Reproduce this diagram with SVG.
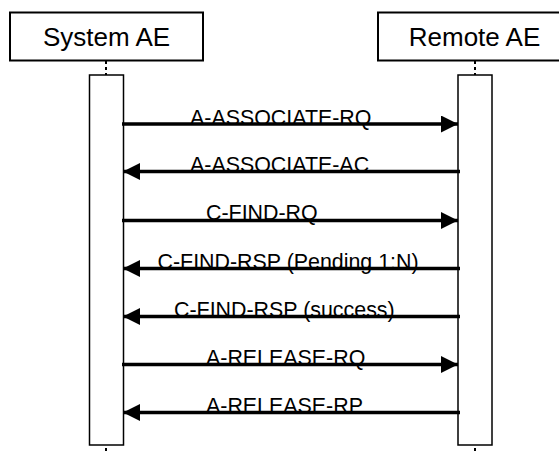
<svg xmlns="http://www.w3.org/2000/svg" width="559" height="453" viewBox="0 0 559 453">
<style>
.box{fill:#fff;stroke:#000;stroke-width:2}
.act{fill:#fff;stroke:#000;stroke-width:1.5}
.life{stroke:#000;stroke-width:2;stroke-dasharray:3 3;fill:none}
.hdr{font-family:"Liberation Sans",Arial,sans-serif;font-size:26px;fill:#000;text-anchor:middle}
.lbl{font-family:"Liberation Sans",Arial,sans-serif;font-size:21.4px;fill:#000}
.msg{stroke:#000;stroke-width:3.5;fill:none}
</style>
<defs>
<marker id="ah" markerWidth="17" markerHeight="17" refX="17" refY="8.5" orient="auto" markerUnits="userSpaceOnUse">
<path d="M0,0 L17,8.5 L0,17 Z" fill="#000"/>
</marker>
</defs>
<rect width="559" height="453" fill="#fff"/>
<g id="system-ae">
<rect class="box" x="10" y="12.5" width="193" height="48"/>
<text class="hdr" x="106.5" y="46">System AE</text>
<line class="life" x1="106" y1="61" x2="106" y2="75"/>
<rect class="act" x="89.5" y="75" width="34" height="370"/>
<line class="life" x1="106" y1="448" x2="106" y2="456"/>
</g>
<g id="remote-ae">
<rect class="box" x="378" y="12.5" width="193" height="48"/>
<text class="hdr" x="474.5" y="46">Remote AE</text>
<line class="life" x1="475" y1="61" x2="475" y2="75"/>
<rect class="act" x="458" y="75" width="34" height="370"/>
<line class="life" x1="475" y1="448" x2="475" y2="456"/>
</g>
<g id="connectors">
<line class="msg" x1="122" y1="124" x2="458" y2="124" marker-end="url(#ah)"/>
<line class="msg" x1="460" y1="171.5" x2="123" y2="171.5" marker-end="url(#ah)"/>
<line class="msg" x1="122" y1="220.5" x2="458" y2="220.5" marker-end="url(#ah)"/>
<line class="msg" x1="460" y1="268.5" x2="123" y2="268.5" marker-end="url(#ah)"/>
<line class="msg" x1="460" y1="316.5" x2="123" y2="316.5" marker-end="url(#ah)"/>
<line class="msg" x1="122" y1="364.5" x2="458" y2="364.5" marker-end="url(#ah)"/>
<line class="msg" x1="460" y1="412.5" x2="123" y2="412.5" marker-end="url(#ah)"/>
<text class="lbl" x="190" y="124.5">A-ASSOCIATE-RQ</text>
<text class="lbl" x="190" y="171.5">A-ASSOCIATE-AC</text>
<text class="lbl" x="206" y="219.5">C-FIND-RQ</text>
<text class="lbl" x="157.5" y="268.5">C-FIND-RSP (Pending 1:N)</text>
<text class="lbl" x="174" y="316.5">C-FIND-RSP (success)</text>
<text class="lbl" x="206" y="364.5">A-RELEASE-RQ</text>
<text class="lbl" x="206" y="412.5">A-RELEASE-RP</text>
</g>
</svg>
